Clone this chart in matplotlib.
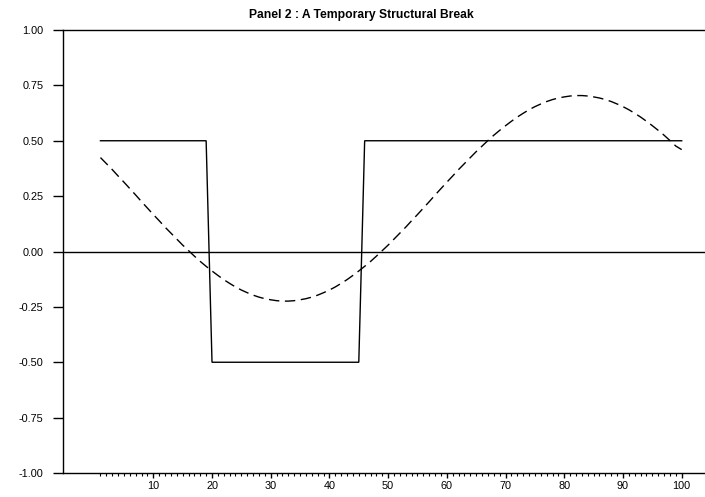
import matplotlib
matplotlib.use("Agg")
import matplotlib.pyplot as plt
from matplotlib.ticker import FixedLocator

plt.rcParams['font.family'] = ['Liberation Sans', 'DejaVu Sans']

t = list(range(1, 101))
# Solid line: temporary structural break
step = [0.5] * 19 + [-0.5] * 26 + [0.5] * 55
# Dashed line: smooth approximation
smooth = [0.424, 0.397, 0.370, 0.341, 0.313, 0.284, 0.255, 0.225, 0.196, 0.167,
          0.139, 0.110, 0.083, 0.056, 0.029, 0.004, -0.021, -0.045, -0.067, -0.088,
          -0.108, -0.127, -0.144, -0.160, -0.174, -0.186, -0.197, -0.206, -0.213, -0.218,
          -0.222, -0.224, -0.224, -0.222, -0.218, -0.213, -0.206, -0.197, -0.186, -0.174,
          -0.160, -0.144, -0.127, -0.108, -0.088, -0.067, -0.045, -0.021, 0.004, 0.029,
          0.056, 0.083, 0.110, 0.139, 0.167, 0.196, 0.225, 0.255, 0.284, 0.313,
          0.341, 0.370, 0.397, 0.424, 0.451, 0.476, 0.501, 0.525, 0.547, 0.568,
          0.588, 0.607, 0.624, 0.640, 0.654, 0.666, 0.677, 0.686, 0.693, 0.698,
          0.702, 0.704, 0.704, 0.702, 0.698, 0.693, 0.686, 0.677, 0.666, 0.654,
          0.640, 0.624, 0.607, 0.588, 0.568, 0.547, 0.525, 0.501, 0.476, 0.460]
ytick_vals = [-1.0, -0.75, -0.5, -0.25, 0.0, 0.25, 0.5, 0.75, 1.0]
xtick_vals = [10, 20, 30, 40, 50, 60, 70, 80, 90, 100]
title = "Panel 2 : A Temporary Structural Break"

W, H = 705, 497
fig = plt.figure(figsize=(W / 100, H / 100), dpi=100)
ax = fig.add_axes([63.3 / W, 24 / H, (W - 63.3) / W, 443 / H])

ax.plot(t, step, color='black', lw=1.0, solid_joinstyle='miter')
ax.plot(t, smooth, color='black', lw=1.0, linestyle=(0, (7.5, 4)))
ax.axhline(0.0, color='black', lw=1.0)

ax.set_xlim(-5.33, 103.97)
ax.set_ylim(-1.0, 1.0)

ax.spines['right'].set_visible(False)
for s in ['left', 'top', 'bottom']:
    ax.spines[s].set_linewidth(1.0)

ax.yaxis.set_major_locator(FixedLocator(ytick_vals))
ax.set_yticklabels([f"{v:.2f}" for v in ytick_vals])
ax.xaxis.set_major_locator(FixedLocator(xtick_vals))
ax.xaxis.set_minor_locator(FixedLocator([v for v in t if v % 10 != 0]))
ax.set_xticklabels([str(v) for v in xtick_vals])

ax.tick_params(axis='y', which='major', direction='out', length=7.2, width=1.0,
               pad=7, labelsize=7.8)
ax.tick_params(axis='x', which='major', direction='out', length=3.6, width=1.0,
               pad=2, labelsize=7.8)
ax.tick_params(axis='x', which='minor', direction='out', length=2.0, width=0.8)

fig.text(361.7 / W, 1 - 15 / H, title, ha='center', va='center',
         fontsize=8.7, fontweight='bold')

fig.savefig("out.png", dpi=100)
